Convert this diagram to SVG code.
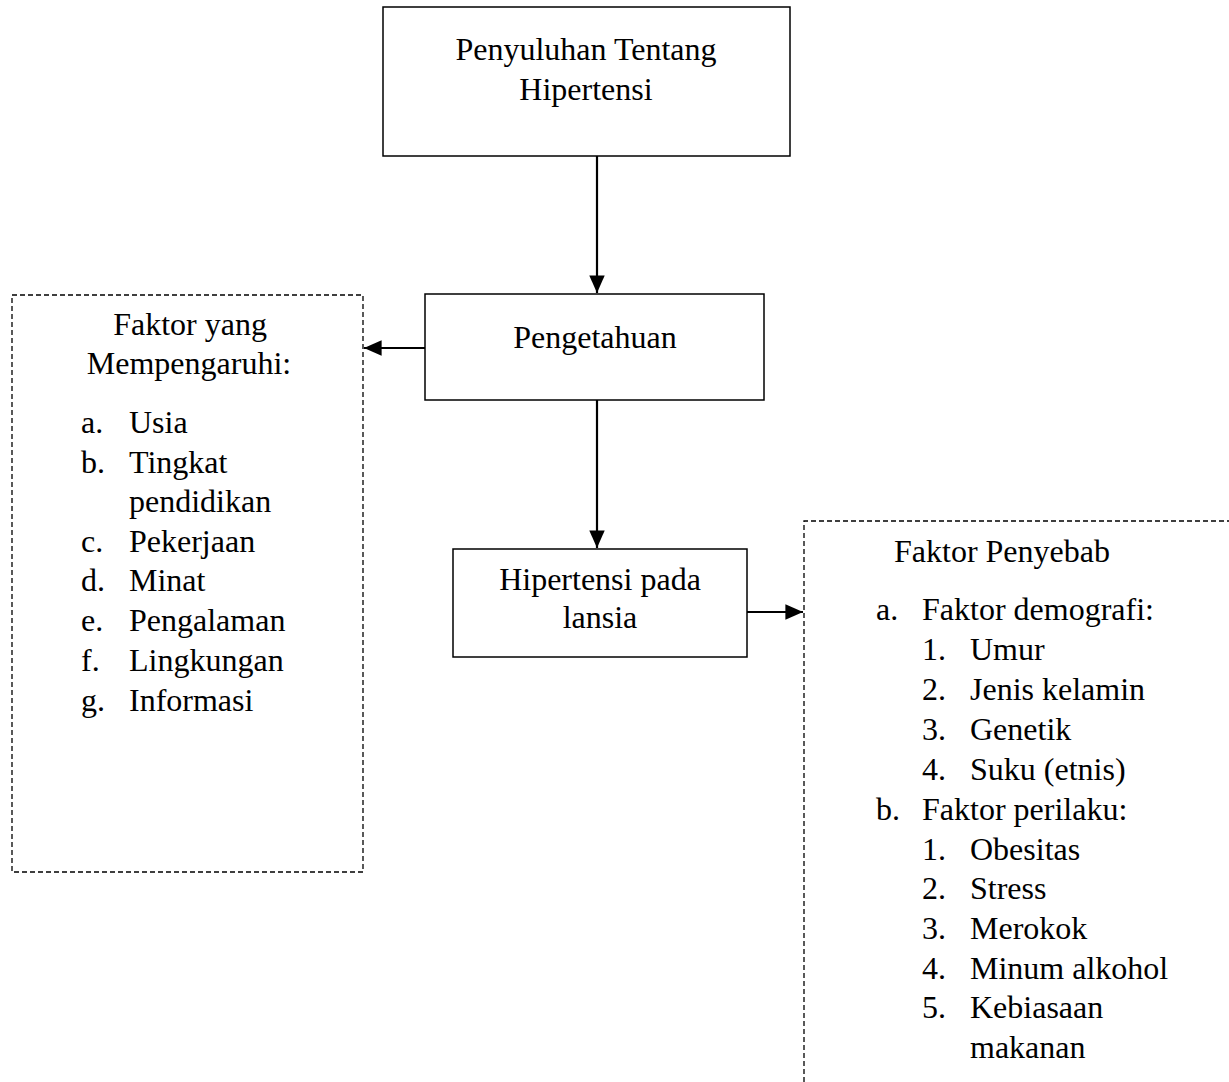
<svg xmlns="http://www.w3.org/2000/svg" width="1229" height="1082" viewBox="0 0 1229 1082">
<style>
text{font-family:"Liberation Serif","Times New Roman",serif;font-size:32px;fill:#000}
.c{text-anchor:middle}
.box{fill:#fff;stroke:#000;stroke-width:1.5}
.dash{fill:none;stroke:#000;stroke-width:1.3;stroke-dasharray:5 3}
.conn{stroke:#000;stroke-width:2.2;fill:none}
</style>
<defs>
<marker id="ah" markerWidth="8" markerHeight="7" refX="8" refY="3.5" orient="auto" markerUnits="strokeWidth">
<path d="M0,0 L8,3.5 L0,7 Z" fill="#000"/>
</marker>
</defs>
<rect width="1229" height="1082" fill="#fff"/>
<g id="penyuluhan">
<rect class="box" x="383" y="7" width="407" height="149"/>
<text class="c" x="586" y="60">Penyuluhan Tentang</text>
<text class="c" x="586" y="100">Hipertensi</text>
</g>
<g id="pengetahuan">
<rect class="box" x="425" y="294" width="339" height="106"/>
<text class="c" x="595" y="348">Pengetahuan</text>
</g>
<g id="hipertensi">
<rect class="box" x="453" y="549" width="294" height="108"/>
<text class="c" x="600" y="590">Hipertensi pada</text>
<text class="c" x="600" y="628">lansia</text>
</g>
<g id="faktor-mempengaruhi">
<rect class="dash" x="12" y="295" width="351" height="577"/>
<text class="c" x="190" y="335">Faktor yang</text>
<text class="c" x="189" y="374">Mempengaruhi:</text>
<text x="81" y="433">a.</text><text x="129" y="433">Usia</text>
<text x="81" y="473">b.</text><text x="129" y="473">Tingkat</text>
<text x="129" y="512">pendidikan</text>
<text x="81" y="552">c.</text><text x="129" y="552">Pekerjaan</text>
<text x="81" y="591">d.</text><text x="129" y="591">Minat</text>
<text x="81" y="631">e.</text><text x="129" y="631">Pengalaman</text>
<text x="81" y="671">f.</text><text x="129" y="671">Lingkungan</text>
<text x="81" y="711">g.</text><text x="129" y="711">Informasi</text>
</g>
<g id="faktor-penyebab">
<path class="dash" d="M804,1082 V521 H1229"/>
<text class="c" x="1002" y="562">Faktor Penyebab</text>
<text x="876" y="620">a.</text><text x="922" y="620">Faktor demografi:</text>
<text x="922" y="660">1.</text><text x="970" y="660">Umur</text>
<text x="922" y="700">2.</text><text x="970" y="700">Jenis kelamin</text>
<text x="922" y="740">3.</text><text x="970" y="740">Genetik</text>
<text x="922" y="780">4.</text><text x="970" y="780">Suku (etnis)</text>
<text x="876" y="820">b.</text><text x="922" y="820">Faktor perilaku:</text>
<text x="922" y="860">1.</text><text x="970" y="860">Obesitas</text>
<text x="922" y="899">2.</text><text x="970" y="899">Stress</text>
<text x="922" y="939">3.</text><text x="970" y="939">Merokok</text>
<text x="922" y="979">4.</text><text x="970" y="979">Minum alkohol</text>
<text x="922" y="1018">5.</text><text x="970" y="1018">Kebiasaan</text>
<text x="970" y="1058">makanan</text>
</g>
<g id="connectors">
<line class="conn" x1="597" y1="156" x2="597" y2="293" marker-end="url(#ah)"/>
<line class="conn" x1="597" y1="400" x2="597" y2="548" marker-end="url(#ah)"/>
<line class="conn" x1="425" y1="348" x2="364" y2="348" marker-end="url(#ah)"/>
<line class="conn" x1="747" y1="612" x2="803" y2="612" marker-end="url(#ah)"/>
</g>
</svg>
